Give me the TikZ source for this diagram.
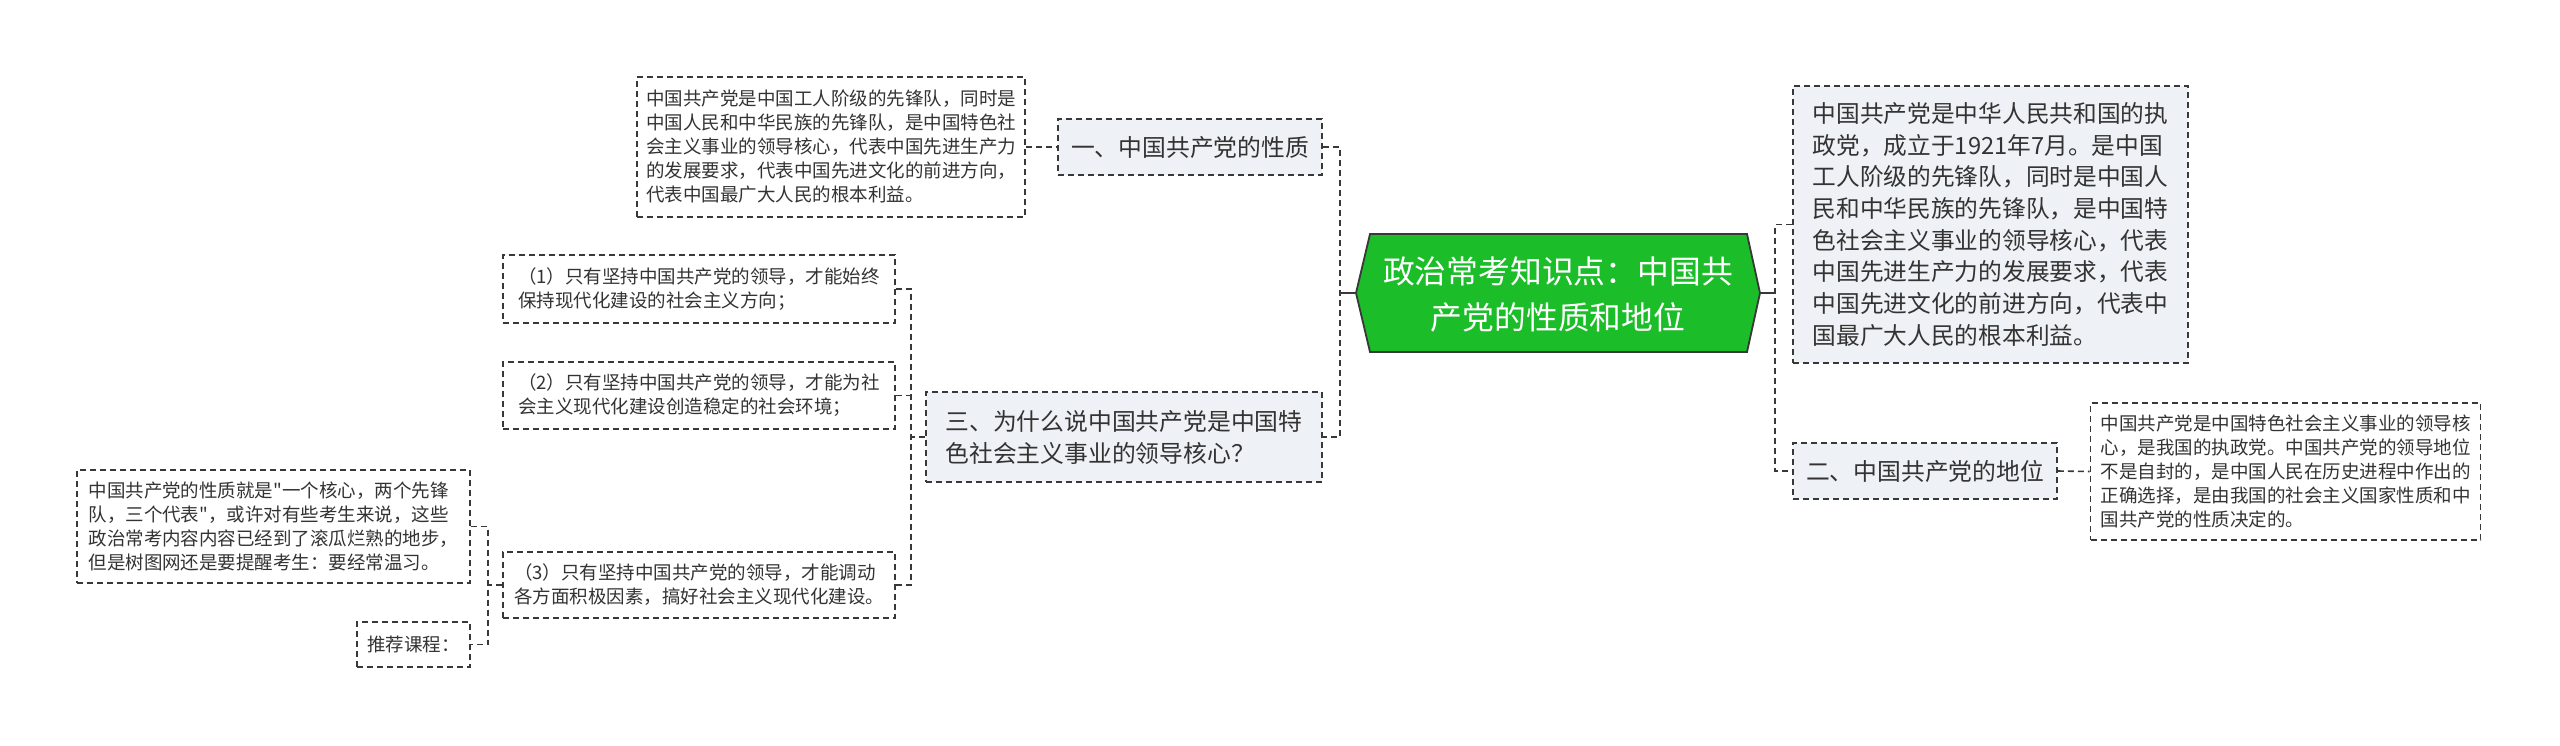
\documentclass[tikz,border=0pt]{standalone}
\usepackage{fontspec}
\setmainfont{Noto Sans CJK SC}
\newfontfamily\cjkplain{Noto Sans CJK SC}
\definecolor{dcol}{HTML}{383838}
\definecolor{tcol}{HTML}{333333}
\definecolor{boxfill}{HTML}{EEF1F5}
\definecolor{cgreen}{HTML}{1BBD28}
\tikzset{
  box/.style={rectangle, draw=dcol, dash pattern=on 3pt off 2pt, line width=0.8pt,
    text=tcol, align=left, inner sep=0pt},
  small/.style={font=\fontsize{9.25pt}{12pt}\selectfont},
  mid/.style={font=\fontsize{11.9pt}{16pt}\selectfont},
  gfill/.style={fill=boxfill},
  link/.style={draw=dcol, dash pattern=on 3pt off 2pt, line width=0.8pt},
  sol/.style={draw=dcol, line width=1pt},
}
\begin{document}
\begin{tikzpicture}[x=0.5pt,y=-0.5pt]
\useasboundingbox (0,0) rectangle (2560,745);
\fill[white] (0,0) rectangle (2560,745);

% central node
\draw[fill=cgreen, draw=dcol, line width=0.9pt]
  (1356,293) coordinate (hl) -- (1370,234) -- (1747,234) -- (1760,293) coordinate (hr)
  -- (1747,352) -- (1370,352) -- cycle;
\node[font=\fontsize{15.9pt}{23pt}\selectfont, text=white, align=center] (c) at (1558,295)
  {政治常考知识点：中国共\\产党的性质和地位};

% left branches
\node[box, gfill, mid, minimum width=132pt, minimum height=28pt] (b1) at (1190,147)
  {一、中国共产党的性质};
\node[box, small, minimum width=194pt, minimum height=70pt] (t1) at (831,147)
  {中国共产党是中国工人阶级的先锋队，同时是\\中国人民和中华民族的先锋队，是中国特色社\\会主义事业的领导核心，代表中国先进生产力\\的发展要求，代表中国先进文化的前进方向，\\代表中国最广大人民的根本利益。};
\node[box, gfill, mid, minimum width=198pt, minimum height=45pt] (b3) at (1124,437)
  {三、为什么说中国共产党是中国特\\色社会主义事业的领导核心？};
\node[box, small, minimum width=196pt, minimum height=34pt] (c1) at (699,289)
  {（1）只有坚持中国共产党的领导，才能始终\\保持现代化建设的社会主义方向；};
\node[box, small, minimum width=196pt, minimum height=33.5pt] (c2) at (699,395.5)
  {（2）只有坚持中国共产党的领导，才能为社\\会主义现代化建设创造稳定的社会环境；};
\node[box, small, minimum width=196pt, minimum height=33pt] (c3) at (699,585)
  {（3）只有坚持中国共产党的领导，才能调动\\各方面积极因素，搞好社会主义现代化建设。};
\node[box, small, font=\cjkplain\fontsize{9.25pt}{12pt}\selectfont, minimum width=196.5pt, minimum height=56.5pt] (g1) at (273.5,526.5)
  {中国共产党的性质就是"一个核心，两个先锋\\队，三个代表"，或许对有些考生来说，这些\\政治常考内容内容已经到了滚瓜烂熟的地步，\\但是树图网还是要提醒考生：要经常温习。};
\node[box, small, minimum width=56.5pt, minimum height=22.5pt] (g2) at (413.5,644.5)
  {推荐课程：};

% right branches
\node[box, gfill, font=\fontsize{11.85pt}{15.85pt}\selectfont, minimum width=197.5pt, minimum height=138.5pt] (A) at (1990.5,224.5)
  {中国共产党是中华人民共和国的执\\政党，成立于1921年7月。是中国\\工人阶级的先锋队，同时是中国人\\民和中华民族的先锋队，是中国特\\色社会主义事业的领导核心，代表\\中国先进生产力的发展要求，代表\\中国先进文化的前进方向，代表中\\国最广大人民的根本利益。};
\node[box, gfill, mid, minimum width=132pt, minimum height=28pt] (B) at (1925,471)
  {二、中国共产党的地位};
\node[box, small, minimum width=195pt, minimum height=68.5pt] (Bt) at (2285.5,471.5)
  {中国共产党是中国特色社会主义事业的领导核\\心，是我国的执政党。中国共产党的领导地位\\不是自封的，是中国人民在历史进程中作出的\\正确选择，是由我国的社会主义国家性质和中\\国共产党的性质决定的。};

% connectors left
\draw[link] (b1.east) -- ++(17,0) coordinate (ls) |- (b3.east);
\draw[sol] (hl) -- (hl -| ls);
\draw[link] (t1.east) -- (b1.west);
\draw[link] (c1.east) -- ++(15,0) coordinate (ms) |- (c3.east);
\draw[link] (c2.east) -- (c2.east -| ms);
\draw[link] (b3.west) -- (b3.west -| ms);
\draw[link] (g1.east) -- ++(17,0) coordinate (ss) |- (g2.east);
\draw[link] (c3.west) -- (c3.west -| ss);

% connectors right
\draw[link] (A.west) -- ++(-17,0) coordinate (rs) |- (B.west);
\draw[sol] (hr) -- (hr -| rs);
\draw[link] (B.east) -- (Bt.west);
\end{tikzpicture}
\end{document}
